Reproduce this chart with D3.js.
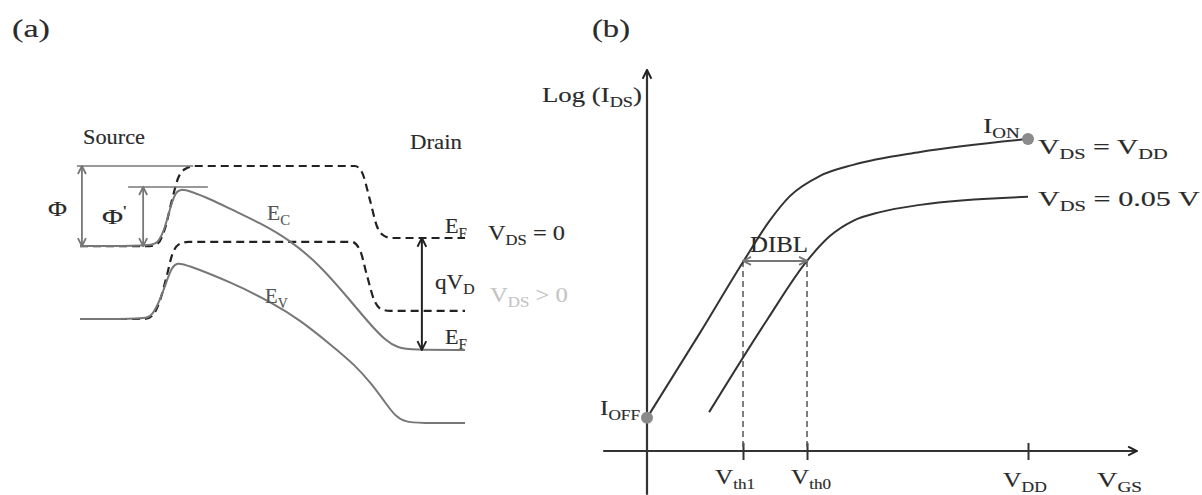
<!DOCTYPE html>
<html>
<head>
    <script src="https://cdn.jsdelivr.net/npm/d3@7"></script>
    <style>
        body { margin: 0; background: #fff; }
        #my-svg { width: 1202px; height: 495px; display: block; }
        text { font-family: "Times New Roman", "Liberation Serif", serif; }
    </style>
</head>
<body>

<svg id="my-svg"></svg>

<script type="module">
    // ---- panel (a): band diagram, position 0..100 (source -> drain), energy in arbitrary units
    const ecEquil = [[0, 61.3], [18.2, 61.3], [20.3, 62.3], [22.1, 67.3], [23.9, 76.7], [25.5, 84.0], [27.3, 87.0],
        [29.9, 88.0], [71.4, 88.0], [73.2, 86.0], [75.3, 76.7], [77.1, 68.0], [79.0, 64.7], [81.0, 64.0], [100, 64.0]];
    const ecBiased = [[0, 61.3], [18.2, 61.3], [20.3, 62.3], [22.1, 67.3], [23.6, 75.0], [24.9, 79.3], [26.0, 80.3],
        [28.6, 79.7], [33.8, 77.0], [39.7, 73.3], [46.8, 69.0], [54.5, 63.3], [62.3, 55.0], [70.1, 43.3], [75.3, 35.3],
        [79.2, 30.0], [82.6, 27.3], [86.2, 26.7], [100, 26.7]];
    const evEquil = [[0, 37.0], [16.9, 37.0], [18.7, 38.0], [20.8, 43.3], [22.6, 51.7], [23.9, 58.3], [25.5, 61.7],
        [28.1, 62.7], [70.6, 62.7], [72.7, 60.0], [74.5, 51.7], [76.4, 43.3], [78.2, 40.3], [80.5, 39.7], [100, 39.7]];
    const evBiased = [[0, 37.0], [16.9, 37.0], [18.7, 38.0], [20.8, 43.3], [22.6, 50.0], [23.9, 54.3], [25.2, 55.7],
        [27.3, 55.3], [39.7, 49.0], [50.1, 42.3], [57.1, 36.7], [64.9, 28.7], [71.4, 21.7], [75.8, 15.3],
        [79.2, 9.3], [81.8, 4.7], [84.4, 2.7], [88.3, 2.3], [100, 2.3]];
    // barrier heights: [x of arrow, bottom, top], reference lines [x0, x1, level]
    const phi = [0.5, 61.3, 88.0];
    const phiPrime = [16.4, 61.3, 81.0];
    const phiLine = [-0.8, 29.4, 88.0];
    const phiPrimeLine = [12.5, 33.2, 81.0];
    const qVD = [88.8, 26.7, 64.0];

    // ---- panel (b): log(Ids) vs Vgs, both normalised (Vdd = 1)
    const curveVdd = [[0, 0.087], [0.139, 0.310], [0.252, 0.496], [0.323, 0.606], [0.375, 0.669], [0.454, 0.722],
        [0.541, 0.751], [0.717, 0.785], [1.0, 0.819]];
    const curveLow = [[0.163, 0.102], [0.315, 0.344], [0.420, 0.499], [0.480, 0.564], [0.541, 0.604], [0.612, 0.627],
        [0.717, 0.646], [1.0, 0.667]];
    const vth1 = 0.252, vth0 = 0.420, vdd = 1.0;
    const diblLevel = 0.499;

    const svg = d3.select("#my-svg");
    const defs = svg.append("defs");

    function marker(id, color, size) {
        defs.append("marker")
            .attr("id", id)
            .attr("viewBox", "0 0 10 10")
            .attr("refX", 9).attr("refY", 5)
            .attr("markerWidth", size).attr("markerHeight", size)
            .attr("markerUnits", "userSpaceOnUse")
            .attr("orient", "auto-start-reverse")
            .append("path")
            .attr("d", "M1,1 L9,5 L1,9")
            .attr("fill", "none")
            .attr("stroke", color)
            .attr("stroke-width", 1.8);
    }
    marker("arr-dark", "#222", 11);
    marker("arr-gray", "#777", 10);

    // text with _{sub} and ^{sup}, stretched to a target width
    function label(x, y, str, opt = {}) {
        const size = opt.size || 22;
        const color = opt.color || "#2a2a2a";
        const t = svg.append("text")
            .attr("x", x).attr("y", y)
            .attr("font-size", size)
            .attr("fill", color)
            .attr("stroke", color).attr("stroke-width", 0.15)
            .attr("text-anchor", opt.anchor || "start");
        const parts = str.split(/([_^]\{[^}]*\})/).filter(s => s.length);
        let shift = 0;
        parts.forEach(p => {
            let dy = 0, fs = size, txt = p;
            if (p.startsWith("_{")) { txt = p.slice(2, -1); fs = size * 0.68; dy = 5 - shift; shift = 5; }
            else if (p.startsWith("^{")) { txt = p.slice(2, -1); fs = size * 0.68; dy = -8 - shift; shift = -8; }
            else { dy = -shift; shift = 0; }
            t.append("tspan").attr("dy", dy).attr("font-size", fs).text(txt);
        });
        if (opt.w) {
            const w = t.node().getBBox().width;
            const s = opt.w / w;
            t.attr("transform", `translate(${x},0) scale(${s},1) translate(${-x},0)`);
        }
        return t;
    }

    // ================= panel (a)
    const xA = d3.scaleLinear().domain([0, 100]).range([80, 465]);
    const yA = d3.scaleLinear().domain([0, 100]).range([430, 130]);
    const lineDash = d3.line().x(d => xA(d[0])).y(d => yA(d[1])).curve(d3.curveMonotoneX);
    const lineSolid = d3.line().x(d => xA(d[0])).y(d => yA(d[1])).curve(d3.curveBasis);

    const gA = svg.append("g");
    // equilibrium bands (dashed)
    [ecEquil, evEquil].forEach(c => {
        gA.append("path").attr("d", lineDash(c))
            .attr("fill", "none").attr("stroke", "#222")
            .attr("stroke-width", 2.2).attr("stroke-dasharray", "8,5");
    });
    // biased bands (solid gray)
    [ecBiased, evBiased].forEach(c => {
        gA.append("path").attr("d", lineSolid(c))
            .attr("fill", "none").attr("stroke", "#777")
            .attr("stroke-width", 2);
    });
    // barrier reference lines
    [phiLine, phiPrimeLine].forEach(l => {
        gA.append("line")
            .attr("x1", xA(l[0])).attr("x2", xA(l[1]))
            .attr("y1", yA(l[2])).attr("y2", yA(l[2]))
            .attr("stroke", "#777").attr("stroke-width", 1.6);
    });
    [phi, phiPrime].forEach(a => {
        gA.append("line")
            .attr("x1", xA(a[0])).attr("x2", xA(a[0]))
            .attr("y1", yA(a[1])).attr("y2", yA(a[2]))
            .attr("stroke", "#777").attr("stroke-width", 1.8)
            .attr("marker-start", "url(#arr-gray)").attr("marker-end", "url(#arr-gray)");
    });
    gA.append("line")
        .attr("x1", xA(qVD[0])).attr("x2", xA(qVD[0]))
        .attr("y1", yA(qVD[1])).attr("y2", yA(qVD[2]))
        .attr("stroke", "#222").attr("stroke-width", 2)
        .attr("marker-start", "url(#arr-dark)").attr("marker-end", "url(#arr-dark)");

    label(12, 37, "(a)", { size: 26, w: 38 });
    label(83, 144, "Source", { w: 62 });
    label(410, 149, "Drain", { w: 52 });
    label(48, 216, "Φ", { w: 19 });
    label(102, 224, "Φ^{'}", { w: 25 });
    label(267, 220, "E_{C}", { w: 23, color: "#555" });
    label(265, 303, "E_{V}", { w: 23, color: "#555" });
    label(445, yA(qVD[2]) - 5, "E_{F}", { w: 22 });
    label(445, yA(qVD[1]) - 6, "E_{F}", { w: 22 });
    label(435, 289, "qV_{D}", { w: 40 });
    label(488, 240, "V_{DS} = 0", { w: 77 });
    label(490, 302, "V_{DS} > 0", { w: 78, color: "#c4c4c4" });

    // ================= panel (b)
    const xB = d3.scaleLinear().domain([0, 1]).range([647, 1028]);
    const yB = d3.scaleLinear().domain([0, 1]).range([451, 70]);
    const lineB = d3.line().x(d => xB(d[0])).y(d => yB(d[1])).curve(d3.curveMonotoneX);

    const gB = svg.append("g");
    // axes
    gB.append("line")
        .attr("x1", xB(-0.115)).attr("x2", xB(1.286))
        .attr("y1", yB(0)).attr("y2", yB(0))
        .attr("stroke", "#333").attr("stroke-width", 2.2)
        .attr("marker-end", "url(#arr-dark)");
    gB.append("line")
        .attr("x1", xB(0)).attr("x2", xB(0))
        .attr("y1", yB(-0.115)).attr("y2", yB(1.0))
        .attr("stroke", "#333").attr("stroke-width", 2.2)
        .attr("marker-end", "url(#arr-dark)");

    const ticks = gB.append("g")
        .attr("transform", `translate(0,${yB(0) - 8})`)
        .call(d3.axisBottom(xB).tickValues([vth1, vth0, vdd]).tickSizeInner(17).tickSizeOuter(0).tickFormat(""));
    ticks.select(".domain").remove();
    ticks.selectAll(".tick line").attr("stroke", "#333").attr("stroke-width", 2);

    // threshold guides
    [vth1, vth0].forEach(v => {
        gB.append("line")
            .attr("x1", xB(v)).attr("x2", xB(v))
            .attr("y1", yB(diblLevel)).attr("y2", yB(0))
            .attr("stroke", "#555").attr("stroke-width", 1.5)
            .attr("stroke-dasharray", "6,4");
    });

    [curveVdd, curveLow].forEach(c => {
        gB.append("path").attr("d", lineB(c))
            .attr("fill", "none").attr("stroke", "#333")
            .attr("stroke-width", 2);
    });

    gB.append("line")
        .attr("x1", xB(vth1)).attr("x2", xB(vth0))
        .attr("y1", yB(diblLevel)).attr("y2", yB(diblLevel))
        .attr("stroke", "#777").attr("stroke-width", 2)
        .attr("marker-start", "url(#arr-gray)").attr("marker-end", "url(#arr-gray)");

    [curveVdd[0], curveVdd[curveVdd.length - 1]].forEach(p => {
        gB.append("circle")
            .attr("cx", xB(p[0])).attr("cy", yB(p[1])).attr("r", 6)
            .attr("fill", "#8a8a8a");
    });

    label(592, 37, "(b)", { size: 26, w: 38 });
    label(542, 102, "Log (I_{DS})", { w: 100 });
    label(983, 133, "I_{ON}", { w: 37 });
    label(1038, 154, "V_{DS} = V_{DD}", { w: 130 });
    label(1038, 206, "V_{DS} = 0.05 V", { w: 162 });
    label(600, 415, "I_{OFF}", { w: 40 });
    label(750, 252, "DIBL", { size: 24, w: 58 });
    label(xB(vth1) - 28, 484, "V_{th1}", { w: 40 });
    label(xB(vth0) - 16, 484, "V_{th0}", { w: 40 });
    label(xB(vdd) - 25, 487, "V_{DD}", { w: 44 });
    label(1097, 487, "V_{GS}", { w: 45 });
</script>
</body>
</html>
